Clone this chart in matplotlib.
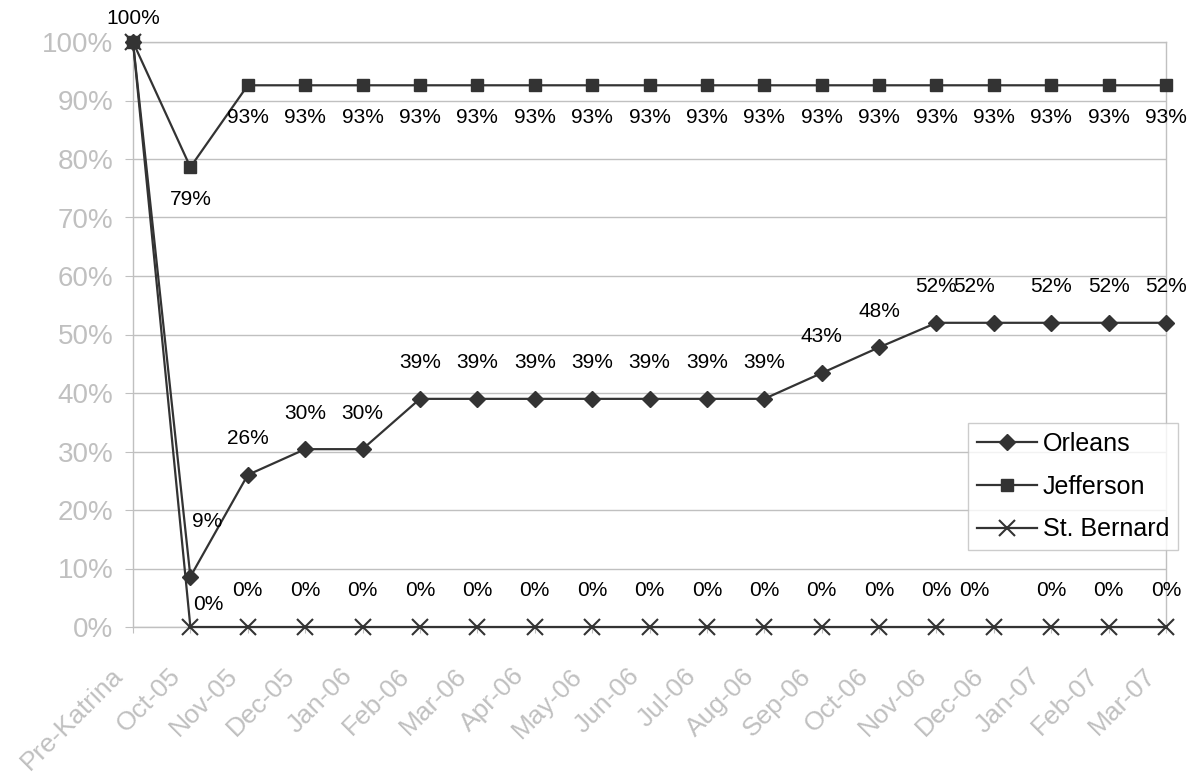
import numpy as np
import matplotlib
matplotlib.use("Agg")
import matplotlib.pyplot as plt
import matplotlib.transforms as mtransforms

plt.rcParams['font.family'] = ['Liberation Sans', 'DejaVu Sans']

months = ['Pre-Katrina', 'Oct-05', 'Nov-05', 'Dec-05', 'Jan-06', 'Feb-06', 'Mar-06',
          'Apr-06', 'May-06', 'Jun-06', 'Jul-06', 'Aug-06', 'Sep-06', 'Oct-06',
          'Nov-06', 'Dec-06', 'Jan-07', 'Feb-07', 'Mar-07']

orleans = [1.00, 0.086, 0.26, 0.304, 0.304, 0.39, 0.39, 0.39, 0.39, 0.39, 0.39, 0.39,
           0.434, 0.478, 0.52, 0.52, 0.52, 0.52, 0.52]
jefferson = [1.00, 0.786, 0.926, 0.926, 0.926, 0.926, 0.926, 0.926, 0.926, 0.926,
             0.926, 0.926, 0.926, 0.926, 0.926, 0.926, 0.926, 0.926, 0.926]
st_bernard = [1.00, 0.0, 0.0, 0.0, 0.0, 0.0, 0.0, 0.0, 0.0, 0.0, 0.0, 0.0, 0.0,
              0.0, 0.0, 0.0, 0.0, 0.0, 0.0]

gray = '#c0c0c0'
dark = '#333333'

fig = plt.figure(figsize=(11.93, 7.75), dpi=100)
ax = fig.add_axes([133/1193, 1 - 627/775, (1166 - 133)/1193, (627 - 42)/775])

x = np.arange(len(months))
l1, = ax.plot(x, orleans, color=dark, lw=1.6, marker='D', ms=8, mfc=dark, mec=dark,
              label='Orleans', clip_on=False, zorder=3)
l2, = ax.plot(x, jefferson, color=dark, lw=1.6, marker='s', ms=8, mfc=dark, mec=dark,
              label='Jefferson', clip_on=False, zorder=3)
l3, = ax.plot(x, st_bernard, color=dark, lw=1.6, marker='x', ms=11, mew=1.5, mec=dark,
              label='St. Bernard', clip_on=False, zorder=3)

# data labels (offsets in points)
def labels(vals, dy, special, skip=()):
    for i, v in enumerate(vals):
        if i in skip:
            continue
        dx, ddy = special.get(i, (0, dy))
        ax.annotate(f"{int(v * 100 + 0.5)}%", (i, v), xytext=(dx, ddy),
                    textcoords='offset points', ha='center', va='center',
                    fontsize=15, color='black', zorder=4)

labels(orleans, 26, {0: (0, 17), 1: (12, 40), 15: (-14, 26)})
labels(jefferson, -23, {}, skip=(0,))
labels(st_bernard, 26, {1: (13, 16), 15: (-14, 26)}, skip=(0,))

ax.set_xlim(0, len(months) - 1)
ax.set_ylim(0, 1)
ax.set_yticks(np.arange(0, 1.01, 0.1))
ax.set_yticklabels([f"{int(round(t * 100))}%" for t in np.arange(0, 1.01, 0.1)])
ax.set_xticks(x)
ax.set_xticklabels(months, rotation=45, ha='right', va='center', rotation_mode='anchor')
ax.tick_params(axis='y', colors=gray, labelcolor=gray, labelsize=20, length=6, pad=8)
ax.tick_params(axis='x', colors=gray, labelcolor=gray, labelsize=19, length=4, pad=4)
offset = mtransforms.ScaledTranslation(-14/100, -34/100, fig.dpi_scale_trans)
for lab in ax.get_xticklabels():
    lab.set_transform(lab.get_transform() + offset)

ax.grid(axis='y', color=gray, lw=1)
ax.set_axisbelow(True)
for s in ax.spines.values():
    s.set_color(gray)
    s.set_linewidth(1)

leg = ax.legend(handles=[l1, l2, l3], loc='upper left',
                bbox_to_anchor=((968 - 133)/1033, (627 - 423)/585),
                borderaxespad=0, fontsize=18, frameon=True, fancybox=False,
                edgecolor=gray, handlelength=2.4, handletextpad=0.25,
                labelspacing=0.75, borderpad=0.35)
leg.get_frame().set_linewidth(1)
leg.set_zorder(5)

fig.savefig('out.png', dpi=100)
